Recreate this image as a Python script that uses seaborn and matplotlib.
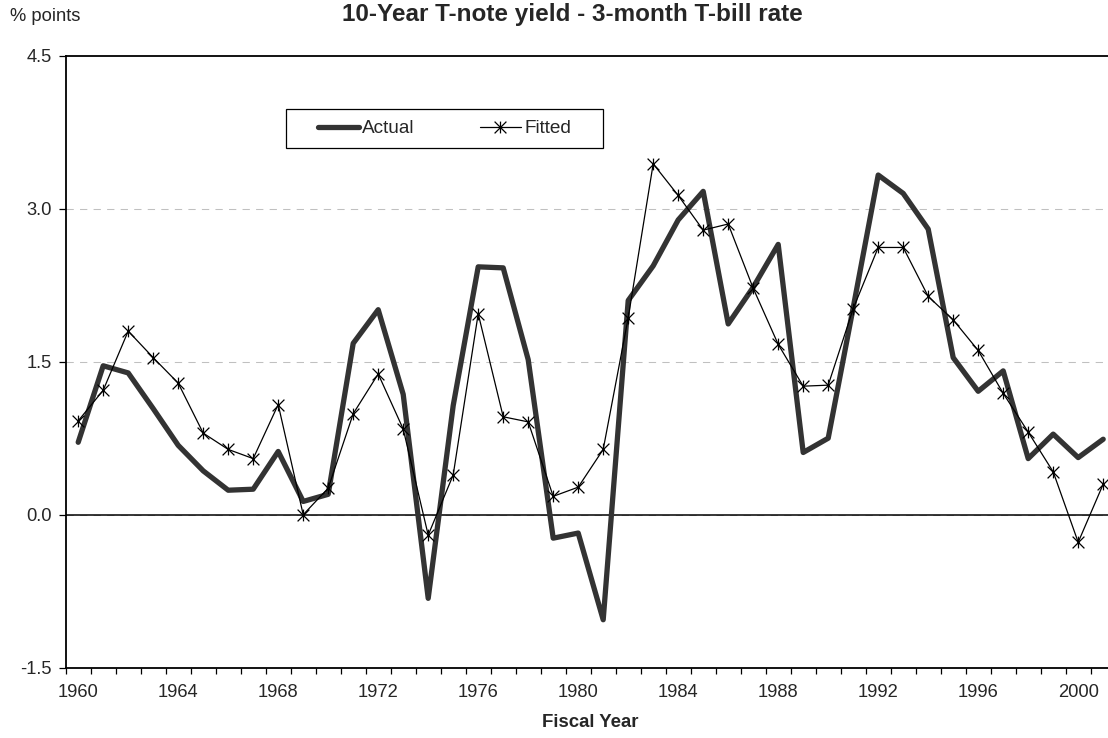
import numpy as np
import pandas as pd
import matplotlib
matplotlib.use('Agg')
import matplotlib.pyplot as plt
from matplotlib.path import Path
from matplotlib.patches import Rectangle
import seaborn as sns

# data
years = list(range(1960, 2002))
actual = [0.71, 1.46, 1.39, 1.04, 0.68, 0.43, 0.24, 0.25, 0.62, 0.13, 0.20, 1.68,
          2.01, 1.18, -0.82, 1.07, 2.43, 2.42, 1.52, -0.23, -0.18, -1.03, 2.10,
          2.44, 2.89, 3.17, 1.87, 2.23, 2.65, 0.61, 0.75, 2.03,
          3.33, 3.15, 2.80, 1.54, 1.21, 1.41, 0.55, 0.79, 0.56, 0.74]
fitted = [0.92, 1.22, 1.80, 1.54, 1.29, 0.80, 0.64, 0.55, 1.08, 0.00, 0.26, 0.99,
          1.38, 0.84, -0.20, 0.39, 1.97, 0.96, 0.91, 0.18, 0.27, 0.64, 1.93,
          3.44, 3.13, 2.79, 2.85, 2.22, 1.67, 1.26, 1.27, 2.02,
          2.62, 2.62, 2.14, 1.91, 1.61, 1.19, 0.81, 0.42, -0.27, 0.30]
yticks = [-1.5, 0.0, 1.5, 3.0, 4.5]
grid_levels = [0.0, 1.5, 3.0]
label_years = list(range(1960, 2001, 4))

title = '10-Year T-note yield - 3-month T-bill rate'

sns.set_style('white')
plt.rcParams['font.family'] = ['Liberation Sans', 'DejaVu Sans']

W, H = 1108, 738
fig = plt.figure(figsize=(W / 100, H / 100), dpi=100)
ax = fig.add_axes([65.7 / W, 70.3 / H, 1050 / W, 612 / H])

for yv in grid_levels:
    ax.axhline(yv, color='#c0c0c0', lw=0.75, dashes=(7, 6), zorder=1)
ax.axhline(0, color='black', lw=1.1, zorder=2)

# excel style star: an x with a vertical bar
star = Path([(-1, -1), (1, 1), (-1, 1), (1, -1), (0, -1), (0, 1)],
            [Path.MOVETO, Path.LINETO, Path.MOVETO, Path.LINETO, Path.MOVETO, Path.LINETO])

df = pd.DataFrame({'year': years, 'Actual': actual, 'Fitted': fitted})
sns.lineplot(data=df, x='year', y='Actual', ax=ax, color='#333333', lw=3.8,
             label='Actual', zorder=3)
sns.lineplot(data=df, x='year', y='Fitted', ax=ax, color='black', lw=0.9,
             marker=star, markersize=8.5, markeredgecolor='black',
             markeredgewidth=0.9, markerfacecolor='none', label='Fitted', zorder=4)

ax.set_xlim(1959.5, 2001.5)
ax.set_ylim(-1.5, 4.5)
ax.set_yticks(yticks)
ax.set_yticklabels([f'{v:.1f}' for v in yticks])
ax.set_xticks(label_years)
ax.set_xticklabels([str(y) for y in label_years])
ax.set_xticks(np.arange(1959.5, 2002, 1), minor=True)
ax.tick_params(axis='x', which='major', bottom=True, length=0, pad=12, labelsize=13.2)
ax.tick_params(axis='x', which='minor', bottom=True, length=4.5, width=0.9,
               direction='out', color='black')
ax.tick_params(axis='y', left=True, length=4.8, width=0.9, direction='out',
               color='black', pad=5, labelsize=13.2)

for s in ax.spines.values():
    s.set_color('black')
    s.set_linewidth(1.3)

ax.set_xlabel('Fiscal Year', fontsize=13.4, fontweight='bold', labelpad=9)
ax.set_ylabel('')

leg = ax.legend(loc='center', bbox_to_anchor=(444.5 / W, 1 - 128.5 / H),
                bbox_transform=fig.transFigure, ncol=2, frameon=False,
                fontsize=13.7, handlelength=2.15, handletextpad=0.2,
                columnspacing=3.4)
ax.add_patch(Rectangle((286 / W, 1 - 147.7 / H), (603.3 - 286) / W, 38.7 / H,
                       transform=fig.transFigure, fill=False, edgecolor='black',
                       lw=0.9, clip_on=False, zorder=5))

# title sits right at the top edge in the original; keep it just inside
fig.text(572.5 / W, 1 - 21 / H, title, ha='center', va='baseline',
         fontsize=17.5, fontweight='bold')
fig.text(10 / W, 1 - 20.7 / H, '% points', ha='left', va='baseline', fontsize=13.2)

fig.savefig('out.png', dpi=100)
